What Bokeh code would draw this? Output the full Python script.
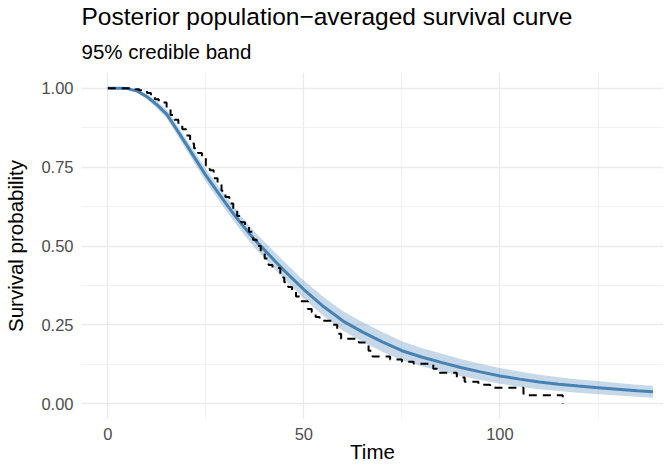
from bokeh.plotting import figure
from bokeh.models import Range1d, FixedTicker, Title, NumeralTickFormatter
from bokeh.embed import file_html
from bokeh.resources import INLINE

# posterior population-averaged survival (mean and 95% band)
time = [0, 2.5, 5, 7.5, 10, 12.5, 15, 17.5, 20, 22.5, 25, 27.5, 30, 32.5, 35, 37.5, 40,
        42.5, 45, 47.5, 50, 55, 60, 65, 70, 75, 80, 85, 90, 95, 100, 105, 110, 115, 120,
        125, 130, 135, 139]
surv_mean = [1.000, 1.000, 0.999, 0.991, 0.973, 0.948, 0.918, 0.871, 0.822, 0.773, 0.724,
             0.680, 0.637, 0.595, 0.556, 0.519, 0.487, 0.454, 0.422, 0.392, 0.362, 0.308,
             0.262, 0.227, 0.196, 0.168, 0.148, 0.131, 0.115, 0.101, 0.088, 0.078, 0.069,
             0.062, 0.056, 0.051, 0.046, 0.041, 0.038]
surv_lower = [1.000, 1.000, 0.998, 0.987, 0.965, 0.937, 0.905, 0.856, 0.805, 0.754, 0.704,
              0.659, 0.615, 0.572, 0.532, 0.494, 0.461, 0.427, 0.394, 0.364, 0.333, 0.278,
              0.231, 0.196, 0.165, 0.138, 0.119, 0.103, 0.088, 0.075, 0.063, 0.054, 0.046,
              0.040, 0.035, 0.030, 0.026, 0.022, 0.019]
surv_upper = [1.000, 1.000, 1.000, 0.995, 0.981, 0.959, 0.931, 0.886, 0.839, 0.792, 0.744,
              0.701, 0.659, 0.618, 0.580, 0.544, 0.513, 0.481, 0.450, 0.420, 0.391, 0.338,
              0.293, 0.258, 0.227, 0.198, 0.177, 0.159, 0.142, 0.127, 0.113, 0.102, 0.092,
              0.084, 0.077, 0.072, 0.066, 0.060, 0.057]

# Kaplan-Meier step curve
km_time = [0, 7, 8, 10, 11, 12, 13, 15, 16, 17, 18, 19, 20, 21, 22, 23, 24, 25, 26, 27,
           28, 29, 30, 31, 32, 33, 34, 35, 36, 37, 38, 39, 40, 41, 42, 44, 45, 46, 47, 48,
           49, 51, 52, 53, 54, 57, 58.5, 59.5, 64, 66.5, 67.5, 72, 75, 78, 83, 84, 89, 91,
           94.5, 97.5, 106, 116]
km_surv = [1.0, 0.997, 0.994, 0.985, 0.975, 0.965, 0.955, 0.935, 0.915, 0.9, 0.885, 0.87,
           0.85, 0.825, 0.81, 0.795, 0.78, 0.755, 0.74, 0.715, 0.695, 0.675, 0.655, 0.635,
           0.615, 0.595, 0.575, 0.56, 0.545, 0.52, 0.50, 0.48, 0.46, 0.44, 0.43, 0.40,
           0.385, 0.37, 0.355, 0.34, 0.325, 0.30, 0.29, 0.275, 0.263, 0.25, 0.222, 0.206,
           0.194, 0.168, 0.15, 0.14, 0.133, 0.127, 0.111, 0.098, 0.083, 0.07, 0.06, 0.051,
           0.027, 0.0]

x_ticks = [0, 50, 100]
x_minor = [25, 75, 125]
y_ticks = [0.0, 0.25, 0.5, 0.75, 1.0]
y_minor = [0.125, 0.375, 0.625, 0.875]

FONT = "Liberation Sans"

p = figure(width=668, height=466, output_backend="svg", toolbar_location=None,
           title=None,
           x_range=Range1d(-6.7, 141.7), y_range=Range1d(-0.05, 1.05),
           min_border_left=81, min_border_right=5, min_border_top=72, min_border_bottom=47)
p.outline_line_color = None
p.background_fill_color = "white"
p.border_fill_color = "white"

p.varea(x=time, y1=surv_lower, y2=surv_upper, fill_color="steelblue", fill_alpha=0.3)
p.line(time, surv_mean, line_color="steelblue", line_width=3)
p.step(km_time, km_surv, mode="after", line_color="black", line_dash="8 6", line_width=2)

xt = FixedTicker(ticks=x_ticks, minor_ticks=x_minor)
yt = FixedTicker(ticks=y_ticks, minor_ticks=y_minor)
p.xaxis.ticker = xt
p.yaxis.ticker = yt
p.xgrid.ticker = xt
p.ygrid.ticker = yt
p.yaxis.formatter = NumeralTickFormatter(format="0.00")

for g in (p.xgrid, p.ygrid):
    g.grid_line_color = "#EBEBEB"
    g.grid_line_width = 1.3
    g.minor_grid_line_color = "#EBEBEB"
    g.minor_grid_line_width = 0.7

for ax in (p.xaxis, p.yaxis):
    ax.axis_line_color = None
    ax.major_tick_line_color = None
    ax.minor_tick_line_color = None
    ax.major_tick_out = 0
    ax.major_tick_in = 0
    ax.minor_tick_out = 0
    ax.minor_tick_in = 0
    ax.major_label_text_font = FONT
    ax.major_label_text_font_size = "16.5px"
    ax.major_label_text_color = "#4D4D4D"
    ax.axis_label_text_font = FONT
    ax.axis_label_text_font_size = "20.5px"
    ax.axis_label_text_font_style = "normal"
    ax.axis_label_text_color = "black"

p.xaxis.axis_label = "Time"
p.yaxis.axis_label = "Survival probability"
p.xaxis.major_label_standoff = 8
p.xaxis.axis_label_standoff = -3
p.yaxis.major_label_standoff = 8
p.yaxis.axis_label_standoff = 11

p.add_layout(Title(text="95% credible band", text_font=FONT, text_font_size="20.5px",
                   text_font_style="normal", text_color="black", align="left",
                   standoff=19), "above")
p.add_layout(Title(text="Posterior population\u2212averaged survival curve", text_font=FONT,
                   text_font_size="24.5px", text_font_style="normal", text_color="black",
                   align="left", standoff=-2), "above")

open("out.html", "w").write(file_html(p, INLINE))
